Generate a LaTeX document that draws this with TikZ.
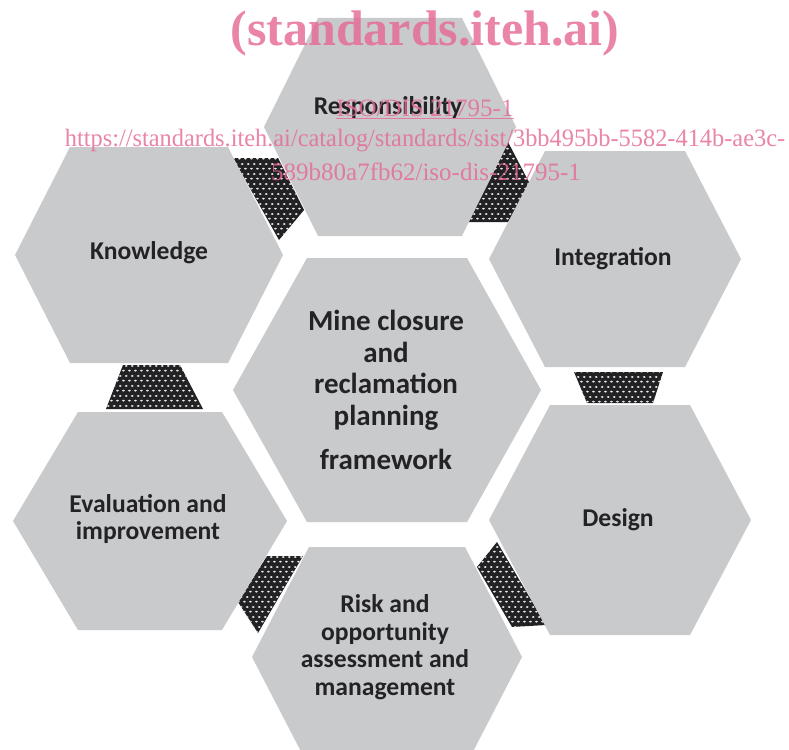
\documentclass[tikz,border=0pt]{standalone}
\usepackage{fontspec}
\setmainfont{Carlito}
\newfontfamily\wmfont{Liberation Serif}
\usetikzlibrary{patterns}

% staggered oval dots for the linking bands
\pgfdeclarepatternformonly{hexdots}{\pgfqpoint{0pt}{0pt}}{\pgfqpoint{5.8pt}{9.6pt}}{\pgfqpoint{5.8pt}{9.6pt}}{%
  \pgfpathellipse{\pgfqpoint{1.45pt}{2.4pt}}{\pgfqpoint{1.55pt}{0pt}}{\pgfqpoint{0pt}{1.0pt}}%
  \pgfpathellipse{\pgfqpoint{4.35pt}{7.2pt}}{\pgfqpoint{1.55pt}{0pt}}{\pgfqpoint{0pt}{1.0pt}}%
  \pgfusepath{fill}}

\definecolor{cellgrey}{RGB}{201,202,204}
\definecolor{linkdark}{RGB}{34,34,36}
\definecolor{dotlight}{RGB}{236,236,238}
\definecolor{celltextcol}{RGB}{35,35,37}
\definecolor{wmpink}{RGB}{230,105,150}

% hexagon: centre (#1,#2), half width #3, half height #4, half top edge #5
\newcommand\hexcellpath[5]{%
  ({#1-#3},#2) -- ({#1-#5},{#2-#4}) -- ({#1+#5},{#2-#4}) -- ({#1+#3},#2)
  -- ({#1+#5},{#2+#4}) -- ({#1-#5},{#2+#4}) -- cycle}

\tikzset{
  hexcell/.style={fill=cellgrey},
  linkband/.style={fill=linkdark, postaction={pattern=hexdots, pattern color=dotlight}},
  celltext/.style={text=celltextcol, align=center, inner sep=0pt,
    font=\bfseries\fontsize{25.6}{27.6}\selectfont},
  wmtext/.style={text=wmpink, text opacity=0.82, inner sep=0pt, align=center},
}

\begin{document}
\begin{tikzpicture}[x=1pt, y=-1pt]
\useasboundingbox (0,0) rectangle (789,749);
\clip (0,0) rectangle (789,749);
\fill[white] (0,0) rectangle (789,749);

% linking bands between neighbouring cells
\fill[linkband] (233,158) -- (278,158) -- (304,210) -- (279,240) -- cycle;
\fill[linkband] (508,142) -- (531,186) -- (508,222) -- (464,222) -- cycle;
\fill[linkband] (123,365) -- (180,365) -- (203,409) -- (106,409) -- cycle;
\fill[linkband] (574,372) -- (663,372) -- (653,403) -- (587,403) -- cycle;
\fill[linkband] (267,556) -- (303,556) -- (258,633) -- (238,602) -- cycle;
\fill[linkband] (497,542) -- (546,625) -- (512,627) -- (477,567) -- cycle;

% cells
\fill[hexcell] \hexcellpath{390}{127}{126}{109}{72};
\fill[hexcell] \hexcellpath{149}{255}{134}{108}{79};
\fill[hexcell] \hexcellpath{615}{259}{126}{108}{70};
\fill[hexcell] \hexcellpath{387}{390}{154}{132}{80};
\fill[hexcell] \hexcellpath{150}{521}{137}{109}{72};
\fill[hexcell] \hexcellpath{620}{520}{131}{115}{70};
\fill[hexcell] \hexcellpath{387}{657}{135}{110}{78};

% cell labels
\node[celltext] (resp) at (388,108) {Responsibility};
\node[celltext] (know) at (149,253) {Knowledge};
\node[celltext] (integ) at (613,259) {Integration};
\node[celltext, font=\bfseries\fontsize{29}{31.5}\selectfont] (core) at (386,390)
  {Mine closure\\and\\reclamation\\planning\\[13pt]framework};
\node[celltext] (evalimp) at (148,519) {Evaluation and\\improvement};
\node[celltext] (design) at (618,520) {Design};
\node[celltext] (risk) at (385,647)
  {Risk and\\opportunity\\assessment and\\management};

% overprinted catalogue stamp
\node[wmtext, font=\wmfont\bfseries\fontsize{50}{50}\selectfont] (stampA) at (425,33) {(standards.iteh.ai)};
\node[wmtext, font=\wmfont\fontsize{25}{25}\selectfont] (stampB) at (425,109) {\underline{ISO/DIS 21795-1}};
\node[wmtext, font=\wmfont\fontsize{25}{25}\selectfont, xscale=0.975, transform shape] (stampC) at (425,141) {https://standards.iteh.ai/catalog/standards/sist/3bb495bb-5582-414b-ae3c-};
\node[wmtext, font=\wmfont\fontsize{25}{25}\selectfont] (stampD) at (426,172) {589b80a7fb62/iso-dis-21795-1};
\end{tikzpicture}
\end{document}
